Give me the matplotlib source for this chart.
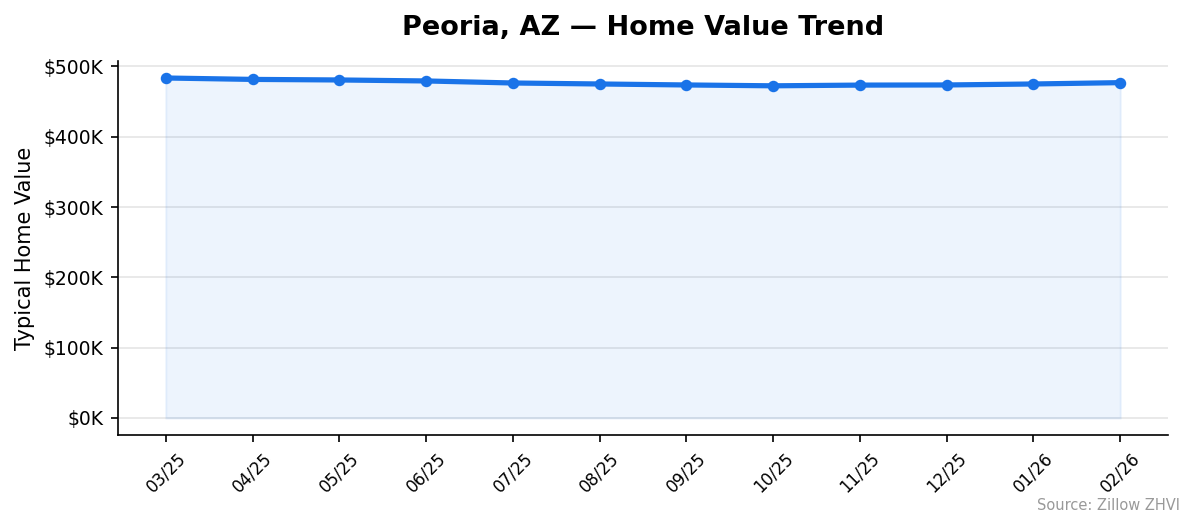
import matplotlib
matplotlib.use("Agg")
import matplotlib.pyplot as plt
from matplotlib.ticker import FuncFormatter

months = ["03/25", "04/25", "05/25", "06/25", "07/25", "08/25",
          "09/25", "10/25", "11/25", "12/25", "01/26", "02/26"]
values = [483.5, 481.5, 480.7, 479.3, 476.4, 475.0,
          473.6, 472.4, 473.4, 473.6, 475.0, 476.9]  # thousands USD

color = "#1a73e8"
fig = plt.figure(figsize=(1194/150, 529/150), dpi=150)
ax = fig.add_axes([118/1194, 1-435/529, (1168-118)/1194, (435-61)/529])
x = list(range(len(months)))
vals = [v * 1000 for v in values]
ax.fill_between(x, vals, 0, color=color, alpha=0.08)
ax.plot(x, vals, color=color, linewidth=2.5, marker="o", markersize=4.5)
ax.set_xticks(x)
ax.set_xticklabels(months, rotation=45, fontsize=8)
ax.yaxis.set_major_formatter(FuncFormatter(lambda v, p: f"${v/1000:.0f}K"))
ax.tick_params(axis="y", labelsize=9)
ax.set_ylabel("Typical Home Value", fontsize=10)
ax.set_title("Peoria, AZ — Home Value Trend", fontsize=13, fontweight="bold", pad=12.5)
ax.grid(axis="y", color="#e5e5e5", linewidth=0.8)
ax.set_axisbelow(True)
ax.spines["top"].set_visible(False)
ax.spines["right"].set_visible(False)
fig.text(0.988, 0.03, "Source: Zillow ZHVI", ha="right", va="bottom", fontsize=7, color="#999999")
fig.savefig("out.png", dpi=150)
